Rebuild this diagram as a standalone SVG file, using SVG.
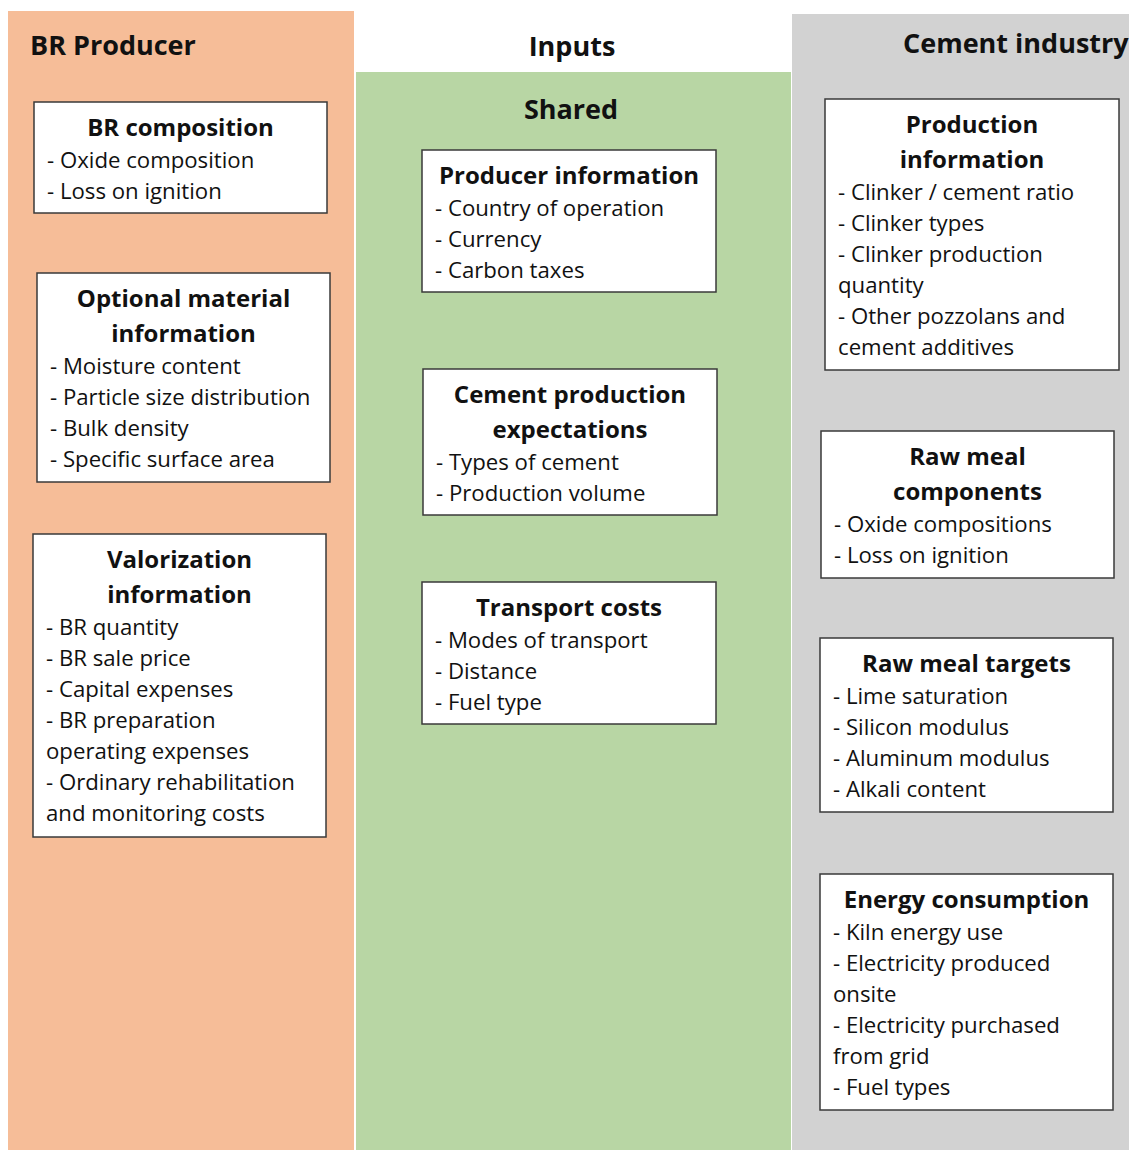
<svg xmlns="http://www.w3.org/2000/svg" width="1129" height="1150" viewBox="0 0 1129 1150">
  <style>
    .box { fill: #ffffff; stroke: #3a3a3a; stroke-width: 1.5; }
    .hdr { font-family: "Open Sans", "DejaVu Sans", sans-serif; font-weight: 700; font-size: 27px; fill: #111111; }
    .ttl { font-family: "Open Sans", "DejaVu Sans", sans-serif; font-weight: 700; font-size: 24px; fill: #111111; text-anchor: middle; }
    .itm { font-family: "Open Sans", "DejaVu Sans", sans-serif; font-size: 22.2px; fill: #111111; }
  </style>

  <!-- column backgrounds -->
  <rect width="1129" height="1150" fill="#ffffff"/>
  <rect x="8" y="11" width="346" height="1139" fill="#F6BD98"/>
  <rect x="356" y="72" width="435" height="1078" fill="#B8D6A4"/>
  <rect x="792" y="14" width="337" height="1136" fill="#D2D2D2"/>

  <!-- column headings -->
  <text class="hdr" x="30" y="55">BR Producer</text>
  <text class="hdr" x="572" y="56" text-anchor="middle">Inputs</text>
  <text class="hdr" x="903" y="53">Cement industry</text>
  <text class="hdr" x="571" y="119" text-anchor="middle">Shared</text>

  <!-- BR producer column -->
  <g id="br-composition">
    <rect class="box" x="34" y="102" width="293" height="111"/>
    <text class="ttl" x="180.5" y="136">BR composition</text>
    <text class="itm" x="47" y="168">- Oxide composition</text>
    <text class="itm" x="47" y="199">- Loss on ignition</text>
  </g>

  <g id="optional-material">
    <rect class="box" x="37" y="273" width="293" height="209"/>
    <text class="ttl" x="183.5" y="307">Optional material</text>
    <text class="ttl" x="183.5" y="342">information</text>
    <text class="itm" x="50" y="374">- Moisture content</text>
    <text class="itm" x="50" y="405">- Particle size distribution</text>
    <text class="itm" x="50" y="436">- Bulk density</text>
    <text class="itm" x="50" y="467">- Specific surface area</text>
  </g>

  <g id="valorization">
    <rect class="box" x="33" y="534" width="293" height="303"/>
    <text class="ttl" x="179.5" y="568">Valorization</text>
    <text class="ttl" x="179.5" y="603">information</text>
    <text class="itm" x="46" y="635">- BR quantity</text>
    <text class="itm" x="46" y="666">- BR sale price</text>
    <text class="itm" x="46" y="697">- Capital expenses</text>
    <text class="itm" x="46" y="728">- BR preparation</text>
    <text class="itm" x="46" y="759">operating expenses</text>
    <text class="itm" x="46" y="790">- Ordinary rehabilitation</text>
    <text class="itm" x="46" y="821">and monitoring costs</text>
  </g>

  <!-- shared column -->
  <g id="producer-information">
    <rect class="box" x="422" y="150" width="294" height="142"/>
    <text class="ttl" x="569" y="184">Producer information</text>
    <text class="itm" x="435" y="216">- Country of operation</text>
    <text class="itm" x="435" y="247">- Currency</text>
    <text class="itm" x="435" y="278">- Carbon taxes</text>
  </g>

  <g id="cement-production-expectations">
    <rect class="box" x="423" y="369" width="294" height="146"/>
    <text class="ttl" x="570" y="403">Cement production</text>
    <text class="ttl" x="570" y="438">expectations</text>
    <text class="itm" x="436" y="470">- Types of cement</text>
    <text class="itm" x="436" y="501">- Production volume</text>
  </g>

  <g id="transport-costs">
    <rect class="box" x="422" y="582" width="294" height="142"/>
    <text class="ttl" x="569" y="616">Transport costs</text>
    <text class="itm" x="435" y="648">- Modes of transport</text>
    <text class="itm" x="435" y="679">- Distance</text>
    <text class="itm" x="435" y="710">- Fuel type</text>
  </g>

  <!-- cement industry column -->
  <g id="production-information">
    <rect class="box" x="825" y="99" width="294" height="271"/>
    <text class="ttl" x="972" y="133">Production</text>
    <text class="ttl" x="972" y="168">information</text>
    <text class="itm" x="838" y="200">- Clinker / cement ratio</text>
    <text class="itm" x="838" y="231">- Clinker types</text>
    <text class="itm" x="838" y="262">- Clinker production</text>
    <text class="itm" x="838" y="293">quantity</text>
    <text class="itm" x="838" y="324">- Other pozzolans and</text>
    <text class="itm" x="838" y="355">cement additives</text>
  </g>

  <g id="raw-meal-components">
    <rect class="box" x="821" y="431" width="293" height="147"/>
    <text class="ttl" x="967.5" y="465">Raw meal</text>
    <text class="ttl" x="967.5" y="500">components</text>
    <text class="itm" x="834" y="532">- Oxide compositions</text>
    <text class="itm" x="834" y="563">- Loss on ignition</text>
  </g>

  <g id="raw-meal-targets">
    <rect class="box" x="820" y="638" width="293" height="174"/>
    <text class="ttl" x="966.5" y="672">Raw meal targets</text>
    <text class="itm" x="833" y="704">- Lime saturation</text>
    <text class="itm" x="833" y="735">- Silicon modulus</text>
    <text class="itm" x="833" y="766">- Aluminum modulus</text>
    <text class="itm" x="833" y="797">- Alkali content</text>
  </g>

  <g id="energy-consumption">
    <rect class="box" x="820" y="874" width="293" height="236"/>
    <text class="ttl" x="966.5" y="908">Energy consumption</text>
    <text class="itm" x="833" y="940">- Kiln energy use</text>
    <text class="itm" x="833" y="971">- Electricity produced</text>
    <text class="itm" x="833" y="1002">onsite</text>
    <text class="itm" x="833" y="1033">- Electricity purchased</text>
    <text class="itm" x="833" y="1064">from grid</text>
    <text class="itm" x="833" y="1095">- Fuel types</text>
  </g>

  <!-- no connectors in this figure -->
  <g id="connectors"/>
</svg>
